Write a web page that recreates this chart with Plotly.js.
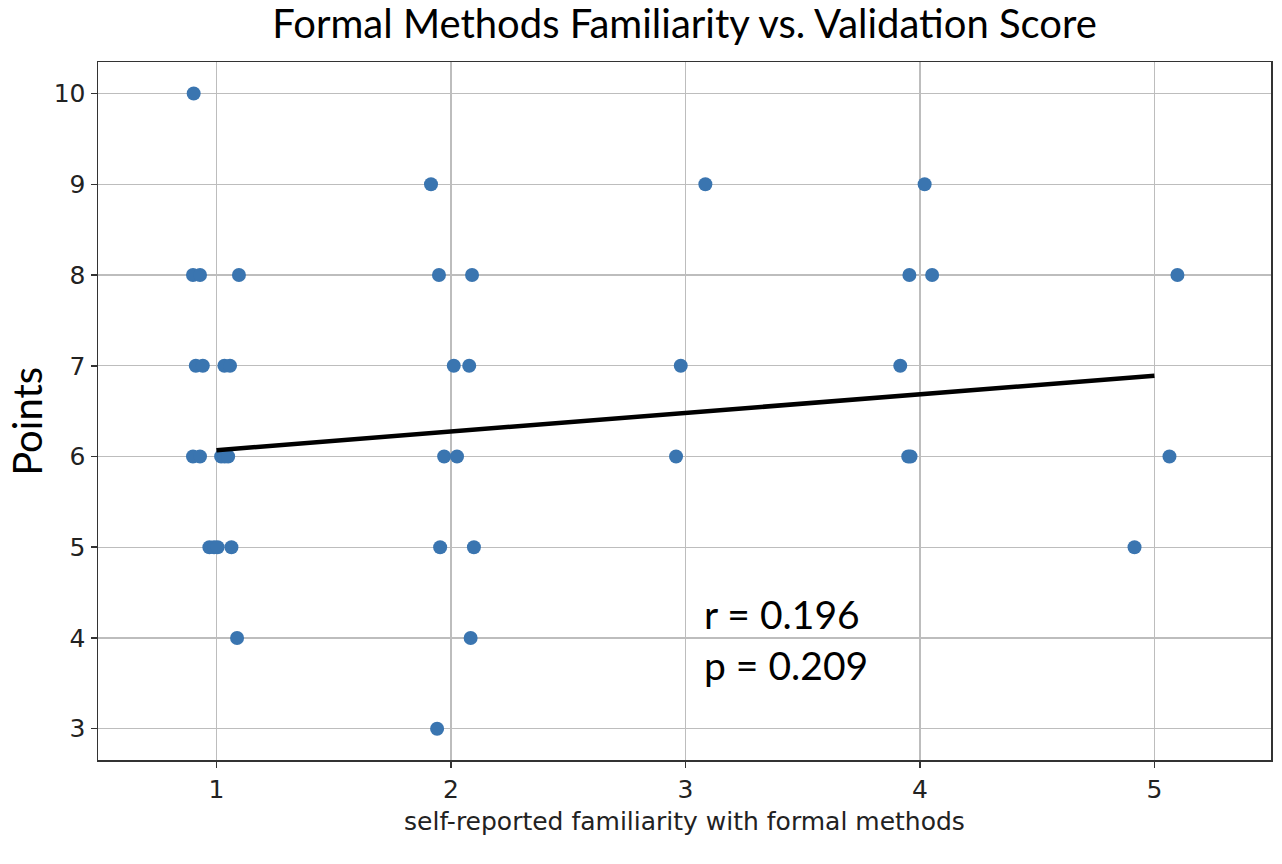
<!DOCTYPE html>
<html>
<head>
<meta charset="utf-8">
<script src="https://cdn.plot.ly/plotly-3.0.1.min.js"></script>
<style>html,body{margin:0;padding:0;background:#fff;}#chart{width:1282px;height:864px;}</style>
</head>
<body>
<div id="chart"></div>
<script>
// Self-reported familiarity (jittered) and points
const familiarity = [
  0.903, 1.915, 3.085, 4.02,
  0.90, 0.93, 1.096, 1.949, 2.09, 3.955, 4.052, 5.098,
  0.912, 0.942, 1.034, 1.058, 2.012, 2.078, 2.98, 3.916,
  0.90, 0.93, 1.02, 1.035, 1.05, 1.971, 2.026, 2.96, 3.95, 3.96, 5.064,
  0.97, 0.99, 1.005, 1.064, 1.954, 2.098, 4.915,
  1.088, 2.084,
  1.941
];
const points = [
  10, 9, 9, 9,
  8, 8, 8, 8, 8, 8, 8, 8,
  7, 7, 7, 7, 7, 7, 7, 7,
  6, 6, 6, 6, 6, 6, 6, 6, 6, 6, 6,
  5, 5, 5, 5, 5, 5, 5,
  4, 4,
  3
];
// Regression line endpoints
const fitX = [1, 5];
const fitY = [6.07, 6.89];
const xTicks = [1, 2, 3, 4, 5];
const yTicks = [3, 4, 5, 6, 7, 8, 9, 10];
const statsText = "r = 0.196<br>p = 0.209";

const calibriLike = "Lato, 'Open Sans', sans-serif";
const mplFont = "'DejaVu Sans', sans-serif";

const traces = [
  {
    x: familiarity, y: points, type: 'scatter', mode: 'markers',
    marker: {color: '#3a75b0', size: 14},
    hoverinfo: 'x+y', showlegend: false
  },
  {
    x: fitX, y: fitY, type: 'scatter', mode: 'lines',
    line: {color: '#000000', width: 4.5},
    showlegend: false
  }
];

const layout = {
  width: 1282, height: 864,
  paper_bgcolor: '#ffffff', plot_bgcolor: '#ffffff',
  margin: {l: 98, r: 11, t: 62, b: 104},
  title: {
    text: 'Formal Methods Familiarity vs. Validation Score',
    font: {family: calibriLike, size: 40, color: '#000'},
    x: 0.534, xanchor: 'center', y: 0.972, yanchor: 'middle'
  },
  xaxis: {
    range: [0.495, 5.497],
    tickvals: xTicks, ticktext: xTicks.map(String),
    showgrid: true, gridcolor: '#bdbdbd', gridwidth: 1.2,
    zeroline: false,
    showline: true, linecolor: '#333', linewidth: 1.5, mirror: true,
    ticks: 'outside', ticklen: 6, tickcolor: '#333', tickwidth: 1.5,
    tickfont: {family: mplFont, size: 25, color: '#222'},
    title: {text: 'self-reported familiarity with formal methods', font: {family: mplFont, size: 25, color: '#222'}, standoff: 10}
  },
  yaxis: {
    range: [2.655, 10.348],
    tickvals: yTicks, ticktext: yTicks.map(String),
    showgrid: true, gridcolor: '#bdbdbd', gridwidth: 1.2,
    zeroline: false,
    showline: true, linecolor: '#333', linewidth: 1.5, mirror: true,
    ticks: 'outside', ticklen: 6, tickcolor: '#333', tickwidth: 1.5,
    tickfont: {family: mplFont, size: 25, color: '#222'}
  },
  shapes: [
    {type: 'rect', xref: 'x', yref: 'y', x0: 3.01, x1: 3.98, y0: 3.32, y1: 4.53,
     fillcolor: '#ffffff', line: {width: 0}, layer: 'below'}
  ],
  annotations: [
    {xref: 'x', yref: 'y', x: 3.07, y: 3.98, xanchor: 'left', yanchor: 'middle', align: 'left',
     text: statsText, showarrow: false,
     font: {family: calibriLike, size: 39, color: '#000'}},
    {xref: 'paper', yref: 'paper', x: -0.0602, y: 0.485, xanchor: 'center', yanchor: 'middle',
     text: 'Points', textangle: -90, showarrow: false,
     font: {family: calibriLike, size: 40, color: '#000'}}
  ]
};

Plotly.newPlot('chart', traces, layout, {displayModeBar: false, staticPlot: true});
</script>
</body>
</html>
